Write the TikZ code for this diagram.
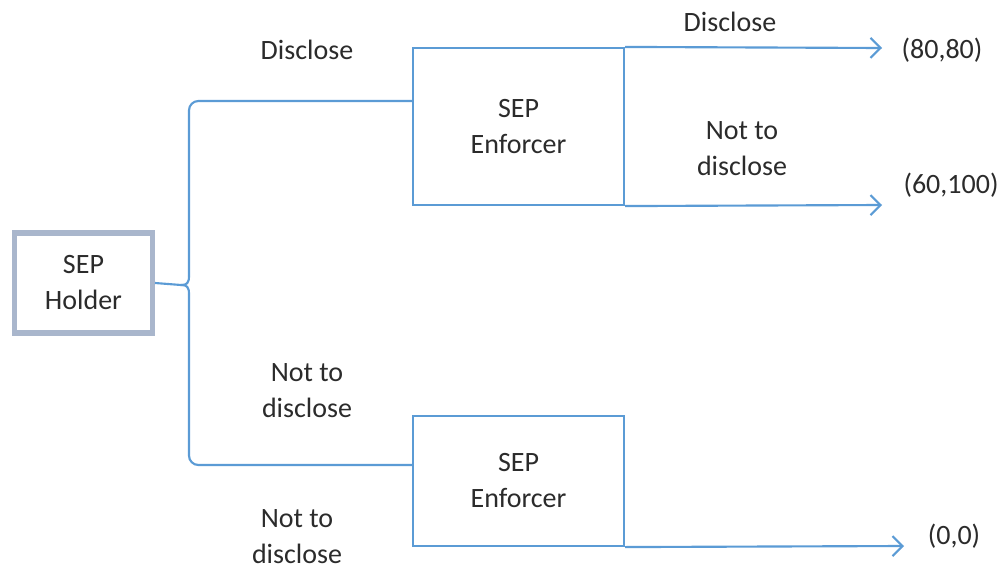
\documentclass[tikz,border=0pt]{standalone}
\usepackage{fontspec}
\setmainfont{Carlito}
\usetikzlibrary{arrows.meta}

\definecolor{lineblue}{HTML}{5B9BD5}
\definecolor{holdergray}{HTML}{A9B6CC}
\definecolor{txtgray}{HTML}{2B2B2B}

\begin{document}
\begin{tikzpicture}[x=0.75pt, y=-0.75pt,
    branch/.style={draw=lineblue, line width=1.6pt},
    payoff/.style={branch, -{Straight Barb[length=7.5pt,width=15pt]}},
    lbl/.style={text=txtgray, font=\fontsize{21}{27}\selectfont, align=center},
    holderbox/.style={draw=holdergray, line width=3.8pt, lbl,
        minimum width=103.5pt, minimum height=75pt},
    enforcerbox/.style={branch, lbl, minimum width=158.25pt}]
    \useasboundingbox (0,0) rectangle (1004,571);

    % players
    \node[holderbox] (holder) at (83.5,283) {SEP\\Holder};
    \node[enforcerbox, minimum height=117.75pt] (enf1) at (518.5,126.5) {SEP\\Enforcer};
    \node[enforcerbox, minimum height=97.5pt] (enf2) at (518.5,481) {SEP\\Enforcer};

    % where the holder's branches meet the enforcer boxes
    \coordinate (fork) at (181,285);
    \coordinate (upin) at (413,101);
    \coordinate (lowin) at (413,465);
    \coordinate (end1) at (882,48);
    \coordinate (end2) at (882,205);
    \coordinate (end3) at (904,546);

    % holder's choice
    \draw[branch] (holder.east) -- (fork);
    \draw[branch] (fork) .. controls (187,285) and (189,287) .. (189,294);
    \draw[branch, rounded corners=7pt] (189,294) -- (189,465) -- (lowin);
    \draw[branch] (fork) .. controls (187,285) and (189,283) .. (189,276);
    \draw[branch, rounded corners=7pt] (189,276) -- (189,101) -- (upin);

    % enforcer's choice and payoffs
    \draw[payoff] (enf1.north east) -- (end1);
    \draw[payoff] (enf1.south east) -- (end2);
    \draw[payoff] (enf2.south east) -- (end3);

    % branch labels
    \node[lbl] (hdisc) at (307,50) {Disclose};
    \node[lbl] (hnot) at (307,391) {Not to\\disclose};
    \node[lbl, inner sep=1pt] (enot2) at (297,537) {Not to\\disclose};
    \node[lbl] (edisc1) at (730,22) {Disclose};
    \node[lbl] (enot1) at (742,149) {Not to\\disclose};

    % payoffs
    \node[lbl] (pay1) at (942,50) {(80,80)};
    \node[lbl] (pay2) at (951,185) {(60,100)};
    \node[lbl] (pay3) at (954,536) {(0,0)};
\end{tikzpicture}
\end{document}
